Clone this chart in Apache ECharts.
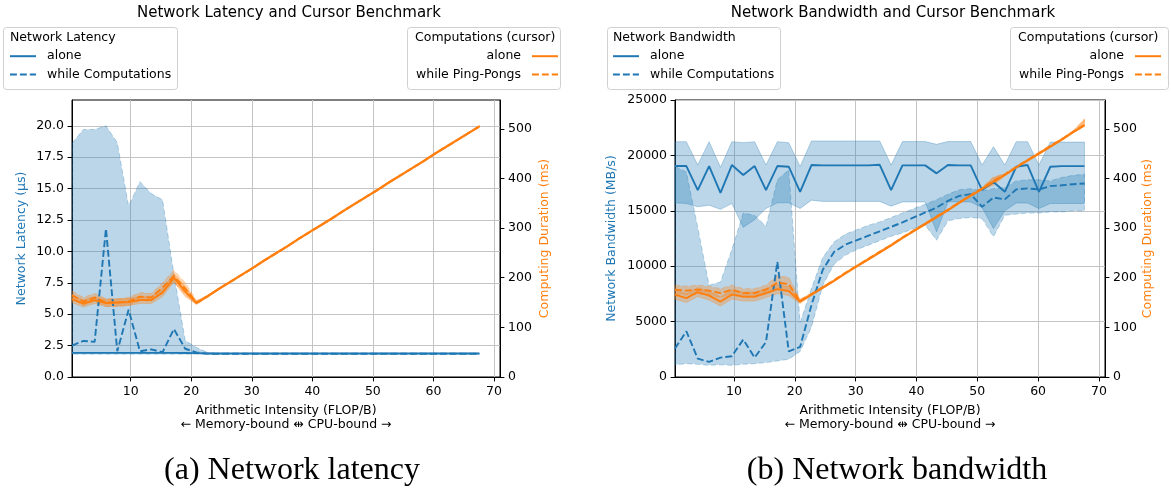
<!DOCTYPE html>
<html><head><meta charset="utf-8">
<script src="https://cdn.jsdelivr.net/npm/echarts@6/dist/echarts.min.js"></script>
<style>html,body{margin:0;padding:0;background:#fff}#c{width:1171px;height:493px}</style>
</head><body><div id="c"></div>
<script>
// Arithmetic intensity (FLOP/B)
const xs = [0.30,2.17,4.04,5.91,7.78,9.65,11.52,13.39,15.26,17.13,19.00,20.87,22.74,24.61,26.48,28.35,30.22,32.09,33.96,35.83,37.70,39.57,41.44,43.31,45.18,47.05,48.92,50.79,52.66,54.53,56.40,58.27,60.14,62.01,63.88,65.75,67.62];
const xTicks = [10,20,30,40,50,60,70];
const latTicks = [0,2.5,5,7.5,10,12.5,15,17.5,20];
const msTicks = [0,100,200,300,400,500];
const bwTicks = [0,5000,10000,15000,20000,25000];

// (a) Network latency (µs)
const latAlone = [1.92,1.92,1.92,1.92,1.92,1.92,1.92,1.92,1.92,1.92,1.91,1.90,1.87,1.87,1.87,1.87,1.87,1.87,1.87,1.87,1.87,1.87,1.87,1.87,1.87,1.87,1.87,1.87,1.87,1.87,1.87,1.87,1.87,1.87,1.87,1.87,1.87];
const latComp = [2.5,2.87,2.8,11.8,2.05,5.35,2.05,2.2,1.97,3.82,2.25,1.95,1.86,1.85,1.85,1.85,1.85,1.85,1.85,1.85,1.85,1.85,1.85,1.85,1.85,1.85,1.85,1.85,1.85,1.85,1.85,1.85,1.85,1.85,1.85,1.85,1.85];
const latCompLo = [1.82,1.82,1.82,1.82,1.82,1.82,1.82,1.82,1.82,1.82,1.82,1.82,1.82,1.82,1.82,1.82,1.82,1.82,1.82,1.82,1.82,1.82,1.82,1.82,1.82,1.82,1.82,1.82,1.82,1.82,1.82,1.82,1.82,1.82,1.82,1.82,1.82];
const latCompHi = [18.6,19.7,19.7,20.0,18.65,13.6,15.55,14.6,14.1,8.2,2.9,2.35,1.95,1.9,1.9,1.9,1.9,1.9,1.9,1.9,1.9,1.9,1.9,1.9,1.9,1.9,1.9,1.9,1.9,1.9,1.9,1.9,1.9,1.9,1.9,1.9,1.9];
// cursor computing duration (ms) during latency runs
const curAAlone = [157,148,155,149,150,151,155,155,170,200,172,149,163,178,192,206,220,235,249,263,278,292,306,320,335,349,363,377,392,406,420,434,449,463,477,491,505];
const curAAloneLo = [150,141,148,142,143,144,148,148,162,192,162,146,161,176,190,204,218,233,247,261,276,290,304,318,333,347,361,375,390,404,418,432,447,461,475,489,503];
const curAAloneHi = [165,155,162,156,157,158,162,162,178,208,182,152,165,180,194,208,222,237,251,265,280,294,308,322,337,351,365,379,394,408,422,436,451,465,479,493,507];
const curAPP = [165,152,160,150,150,152,162,160,180,203,178,150,163,178,192,206,220,235,249,263,278,292,306,320,335,349,363,377,392,406,420,434,449,463,477,491,505];
const curAPPLo = [157,144,152,142,142,144,154,152,170,191,166,146,161,176,190,204,218,233,247,261,276,290,304,318,333,347,361,375,390,404,418,432,447,461,475,489,503];
const curAPPHi = [173,160,168,158,158,160,170,168,190,215,190,154,165,180,194,208,222,237,251,265,280,294,308,322,337,351,365,379,394,408,422,436,451,465,479,493,507];

// (b) Network bandwidth (MB/s)
const bwAlone = [19040,19040,16870,19040,16625,19130,18225,19040,16870,19040,18980,16716,19130,19100,19100,19100,19100,19100,19150,16870,19100,19100,19100,18380,19130,19100,19100,16870,17600,16716,18975,19130,16716,18975,19030,19030,19030];
const bwAloneLo = [15720,15660,15360,15510,15130,15660,13500,14200,15210,15720,15720,15210,15960,15850,15850,15850,15850,15850,15850,15420,15800,15800,15800,13100,15800,15800,15800,15300,13400,15000,15700,15700,15200,15660,15660,15660,15660];
const bwAloneHi = [21235,21235,19130,21235,18920,21235,21150,21235,19130,21235,21150,19000,21300,21300,21300,21300,21300,21300,21300,19130,21250,21250,21250,21000,21250,21250,21250,19130,20780,19130,21235,21235,19130,21200,21200,21200,21200];
const bwComp = [2570,4130,1660,1360,1750,1870,3380,1750,3160,10390,2320,2710,6500,9700,11300,11950,12350,12750,13150,13550,13950,14400,14850,15300,15900,16350,16500,15360,16200,16030,16930,17020,16930,17230,17300,17400,17470];
const bwCompLo = [1100,1200,1150,1050,1100,1050,1150,1200,1300,1450,1600,2300,4500,8300,10200,11000,11500,11900,12300,12700,13000,13400,13700,12350,14100,14300,14400,14300,12650,14600,14700,14800,14800,14900,14900,15000,15000];
const bwCompHi = [19000,18500,13500,8280,8580,11500,14800,14600,13600,17800,18700,4900,8000,10800,12200,12900,13300,13700,14000,14400,14800,15200,15600,16000,16500,16900,17000,16800,17000,17100,17700,17800,17800,17700,18000,18200,18300];
// cursor computing duration (ms) during bandwidth runs
const curBAlone = [166,159,171,164,152,166,162,162,169,177,173,152,166,180,194,209,223,237,251,265,280,294,308,322,336,351,365,379,393,407,422,436,450,464,478,493,507];
const curBAloneLo = [157,150,162,155,143,157,153,153,160,168,164,148,164,178,192,207,221,235,249,263,278,292,306,320,334,349,363,377,387,405,420,434,448,462,476,491,505];
const curBAloneHi = [175,168,180,173,161,175,171,171,178,186,182,156,168,182,196,211,225,239,253,267,282,296,310,324,338,353,367,381,401,409,424,438,452,466,480,495,518];
const curBPP = [176,174,176,174,169,176,169,169,176,190,187,153,167,181,195,210,224,238,252,266,281,295,309,323,337,352,366,380,395,408,423,437,451,465,479,494,508];
const curBPPLo = [167,165,167,165,160,167,160,160,167,176,173,149,165,179,193,208,222,236,250,264,279,293,307,321,335,350,364,378,389,406,421,435,449,463,477,492,506];
const curBPPHi = [185,183,185,183,178,185,178,178,185,204,201,157,169,183,197,212,226,240,254,268,283,297,311,325,339,354,368,382,403,410,425,439,453,467,481,496,520];

const BLUE = '#1f77b4', ORANGE = '#ff7f0e';
const BLUE_A = 'rgba(31,119,180,0.3)', ORANGE_A = 'rgba(255,127,14,0.3)';
const FONT = '"DejaVu Sans", sans-serif';
const LW = 1.9, DASH = [6.9, 3];

const names = {
  latAlone:'alone', latComp:'while Computations', curAAlone:'alone', curAPP:'while Ping-Pongs',
  bwAlone:'alone', bwComp:'while Computations', curBAlone:'alone', curBPP:'while Ping-Pongs'
};

function pts(arr){ return xs.map((x,i)=>[x, arr[i]]); }
function line(name, xi, yi, arr, color, dashed){
  return {type:'line', name, xAxisIndex:xi, yAxisIndex:yi, data:pts(arr), symbol:'circle', symbolSize:0, showSymbol:false,
    lineStyle:{color, width:LW, type: dashed ? DASH : 'solid'}, itemStyle:{color}, animation:false, silent:true};
}
function band(xi, yi, lo, hi, color, dashed){
  return {type:'custom', xAxisIndex:xi, yAxisIndex:yi, silent:true, animation:false,
    data: xs.map((x,i)=>[x, lo[i], hi[i]]), encode:{x:0, y:[1,2]},
    renderItem: function(params, api){
      if (params.dataIndex !== 0) return null;
      const p = [];
      for (let i=0;i<xs.length;i++) p.push(api.coord([xs[i], hi[i]]));
      for (let i=xs.length-1;i>=0;i--) p.push(api.coord([xs[i], lo[i]]));
      return {type:'polygon', shape:{points:p}, style:{fill:color, stroke:color, lineWidth:1, lineDash: dashed ? [5,3] : null}};
    }};
}
function xAxis(gi){
  return {gridIndex:gi, type:'value', min:0.3, max:71,
    name:'Arithmetic Intensity (FLOP/B)\n\u2190 Memory-bound \u21f9 CPU-bound \u2192',
    nameLocation:'middle', nameGap:26,
    nameTextStyle:{fontFamily:FONT, fontSize:12.5, color:'#000', lineHeight:14.5},
    axisLine:{onZero:false, lineStyle:{color:'#000', width:1}},
    axisTick:{show:true, length:4.4, lineStyle:{color:'#000'}, customValues:xTicks},
    axisLabel:{fontFamily:FONT, fontSize:12.5, color:'#000', margin:8, customValues:xTicks},
    splitLine:{show:true, lineStyle:{color:'#c4c4c4', width:1}}};
}
function yAxis(gi, pos, max, interval, ticks, name, color, gap, fmt, grid){
  return {gridIndex:gi, type:'value', position:pos, min:0, max, interval,
    name, nameLocation:'middle', nameGap:gap,
    nameTextStyle:{fontFamily:FONT, fontSize:12.5, color},
    axisLine:{show:true, onZero:false, lineStyle:{color:'#000', width:1}},
    axisTick:{show:true, length:4.4, lineStyle:{color:'#000'}, customValues:ticks},
    axisLabel:{fontFamily:FONT, fontSize:12.5, color:'#000', margin:8, customValues:ticks, formatter:fmt},
    splitLine:{show:grid, lineStyle:{color:'#c4c4c4', width:1}}};
}
function legend(data, pos, align){
  const l = {data, top:49.7, orient:'vertical', itemGap:5.3, itemWidth:26, itemHeight:14, padding:0,
    selectedMode:false, align, formatter:(n)=>names[n],
    itemStyle:{opacity:0, borderWidth:0},
    textStyle:{fontFamily:FONT, fontSize:12.5, color:'#000', padding: align==='right' ? [0,6,0,0] : [0,0,0,6]}};
  return Object.assign(l, pos);
}
function txt(text, x, y, size, align, family, color){
  return {type:'text', z:100, x, y, style:{text, x:0, y:0, font: size+'px '+(family||FONT), fill: color||'#000',
    textAlign:align, align:align, textVerticalAlign:'middle', verticalAlign:'middle'}};
}
function box(x, y, w, h){
  return {type:'rect', z:1, shape:{x, y, width:w, height:h, r:3}, style:{fill:'rgba(255,255,255,0.8)', stroke:'#d0d0d0', lineWidth:1}};
}

const chart = echarts.init(document.getElementById('c'), null, {renderer:'canvas'});
chart.setOption({
  animation:false,
  backgroundColor:'#fff',
  grid:[
    {left:72, top:100, width:428, height:277, show:true, borderColor:'#000', borderWidth:1, backgroundColor:'transparent'},
    {left:675, top:100, width:430, height:277, show:true, borderColor:'#000', borderWidth:1, backgroundColor:'transparent'}
  ],
  xAxis:[xAxis(0), xAxis(1)],
  yAxis:[
    yAxis(0,'left',22.05,2.5,latTicks,'Network Latency (\u00b5s)',BLUE,44,(v)=>v.toFixed(1),true),
    yAxis(0,'right',558,100,msTicks,'Computing Duration (ms)',ORANGE,38,(v)=>String(v),false),
    yAxis(1,'left',25000,5000,bwTicks,'Network Bandwidth (MB/s)',BLUE,57,(v)=>String(v),true),
    yAxis(1,'right',558,100,msTicks,'Computing Duration (ms)',ORANGE,36,(v)=>String(v),false)
  ],
  legend:[
    legend(['latAlone','latComp'], {left:9}, 'left'),
    legend(['curAAlone','curAPP'], {right:1171-559}, 'right'),
    legend(['bwAlone','bwComp'], {left:612}, 'left'),
    legend(['curBAlone','curBPP'], {right:1171-1162}, 'right')
  ],
  graphic:[
    box(3.5,27.5,174,62), box(407.5,27.5,153,62), box(607.5,27.5,173,62), box(1010.5,27.5,158,62),
    txt('Network Latency and Cursor Benchmark', 289, 13, 15, 'center'),
    txt('Network Bandwidth and Cursor Benchmark', 893, 13, 15, 'center'),
    txt('Network Latency', 10, 37.5, 12.5, 'left'),
    txt('Computations (cursor)', 415, 37.5, 12.5, 'left'),
    txt('Network Bandwidth', 613, 37.5, 12.5, 'left'),
    txt('Computations (cursor)', 1018, 37.5, 12.5, 'left'),
    txt('(a) Network latency', 292, 471, 32, 'center', '"Liberation Serif", serif'),
    txt('(b) Network bandwidth', 897, 471, 32, 'center', '"Liberation Serif", serif')
  ],
  series:[
    band(0,0,latCompLo,latCompHi,BLUE_A,true),
    line('latAlone',0,0,latAlone,BLUE,false),
    line('latComp',0,0,latComp,BLUE,true),
    band(0,1,curAAloneLo,curAAloneHi,ORANGE_A,false),
    band(0,1,curAPPLo,curAPPHi,ORANGE_A,true),
    line('curAPP',0,1,curAPP,ORANGE,true),
    line('curAAlone',0,1,curAAlone,ORANGE,false),

    band(1,2,bwAloneLo,bwAloneHi,BLUE_A,false),
    band(1,2,bwCompLo,bwCompHi,BLUE_A,true),
    line('bwAlone',1,2,bwAlone,BLUE,false),
    line('bwComp',1,2,bwComp,BLUE,true),
    band(1,3,curBAloneLo,curBAloneHi,ORANGE_A,false),
    band(1,3,curBPPLo,curBPPHi,ORANGE_A,true),
    line('curBPP',1,3,curBPP,ORANGE,true),
    line('curBAlone',1,3,curBAlone,ORANGE,false)
  ]
});
</script></body></html>
